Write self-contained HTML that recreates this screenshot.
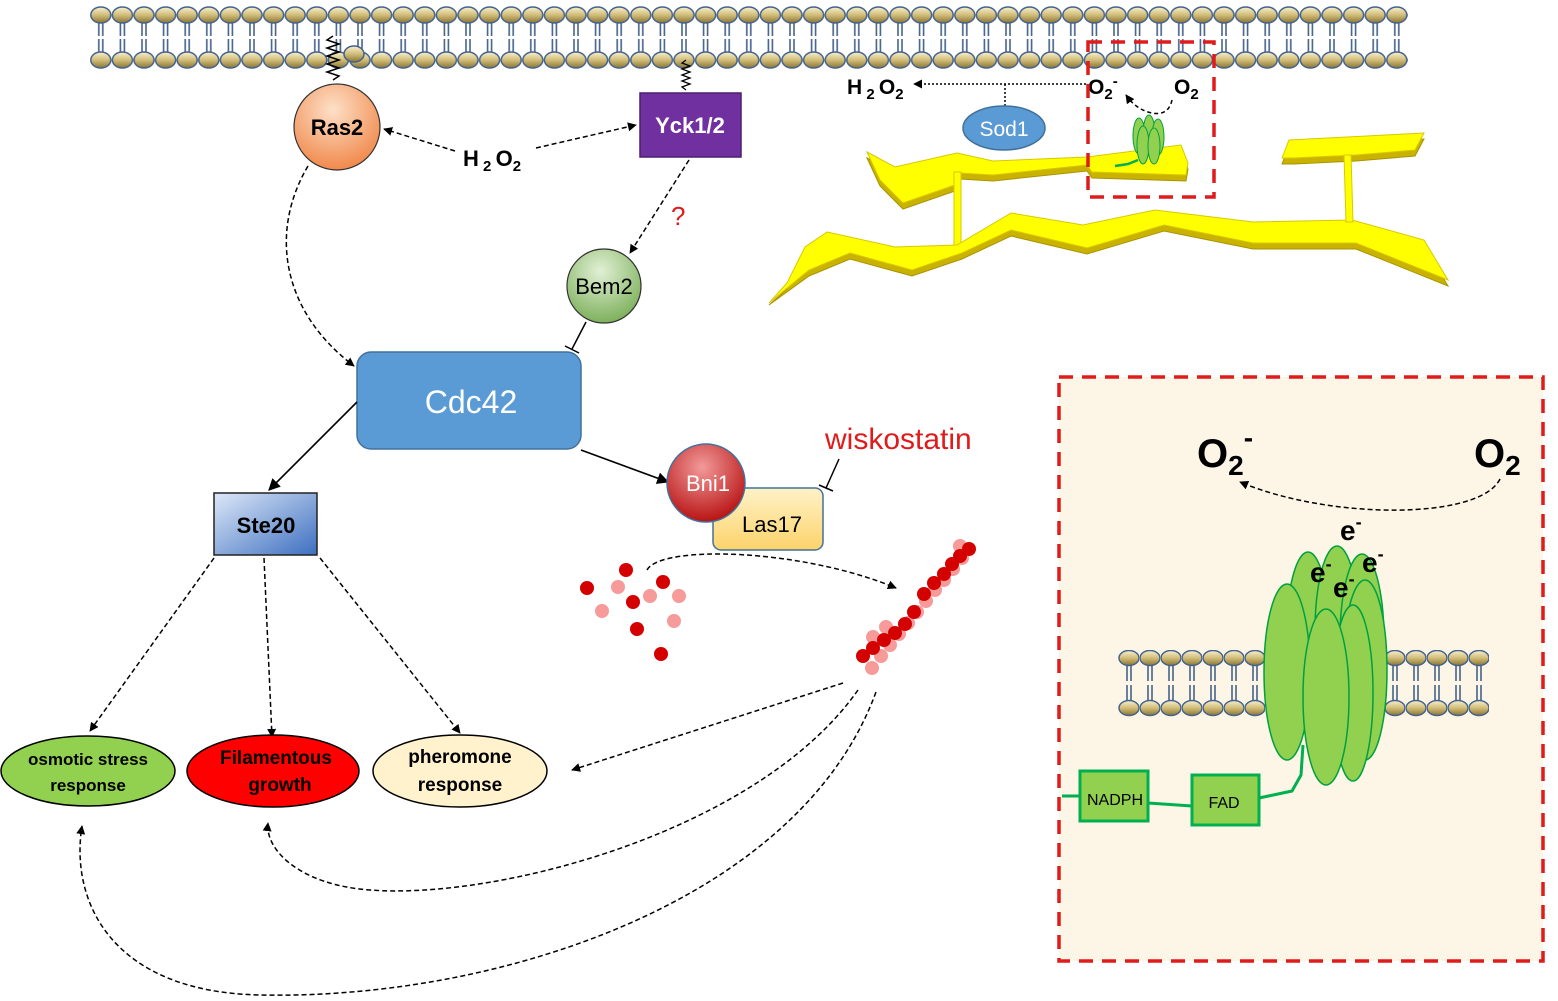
<!DOCTYPE html>
<html><head><meta charset="utf-8"><style>
html,body{margin:0;padding:0;background:#fff}
svg{display:block;font-family:"Liberation Sans",sans-serif}
</style></head><body>
<svg width="1558" height="1001" viewBox="0 0 1558 1001" xmlns="http://www.w3.org/2000/svg">
<defs>
<linearGradient id="hd" x1="0" y1="0" x2="0" y2="1"><stop offset="0" stop-color="#f7f1d0"/><stop offset="0.5" stop-color="#d2bd78"/><stop offset="1" stop-color="#8a7534"/></linearGradient>
<pattern id="mem" patternUnits="userSpaceOnUse" x="90" y="0" width="21.6" height="80">
<line x1="8.8" y1="22" x2="8.8" y2="36" stroke="#44628c" stroke-width="1.6"/><line x1="12.8" y1="22" x2="12.8" y2="36" stroke="#44628c" stroke-width="1.6"/>
<line x1="8.8" y1="39" x2="8.8" y2="53" stroke="#44628c" stroke-width="1.6"/><line x1="12.8" y1="39" x2="12.8" y2="53" stroke="#44628c" stroke-width="1.6"/>
<ellipse cx="10.8" cy="15" rx="10" ry="8" fill="url(#hd)" stroke="#44628c" stroke-width="1.5"/>
<ellipse cx="10.8" cy="60" rx="10" ry="8" fill="url(#hd)" stroke="#44628c" stroke-width="1.5"/>
</pattern>
<pattern id="mem2" patternUnits="userSpaceOnUse" x="1118" y="650" width="21" height="70">
<line x1="9" y1="15" x2="9" y2="31" stroke="#44628c" stroke-width="1.6"/><line x1="13" y1="15" x2="13" y2="31" stroke="#44628c" stroke-width="1.6"/>
<line x1="9" y1="35" x2="9" y2="51" stroke="#44628c" stroke-width="1.6"/><line x1="13" y1="35" x2="13" y2="51" stroke="#44628c" stroke-width="1.6"/>
<ellipse cx="11" cy="8" rx="10" ry="7.5" fill="url(#hd)" stroke="#44628c" stroke-width="1.5"/>
<ellipse cx="11" cy="58" rx="10" ry="7.5" fill="url(#hd)" stroke="#44628c" stroke-width="1.5"/>
</pattern>
<pattern id="mem3" patternUnits="userSpaceOnUse" x="1384" y="650" width="21" height="70">
<line x1="9" y1="15" x2="9" y2="31" stroke="#44628c" stroke-width="1.6"/><line x1="13" y1="15" x2="13" y2="31" stroke="#44628c" stroke-width="1.6"/>
<line x1="9" y1="35" x2="9" y2="51" stroke="#44628c" stroke-width="1.6"/><line x1="13" y1="35" x2="13" y2="51" stroke="#44628c" stroke-width="1.6"/>
<ellipse cx="11" cy="8" rx="10" ry="7.5" fill="url(#hd)" stroke="#44628c" stroke-width="1.5"/>
<ellipse cx="11" cy="58" rx="10" ry="7.5" fill="url(#hd)" stroke="#44628c" stroke-width="1.5"/>
</pattern>
<radialGradient id="ras" cx="0.45" cy="0.3" r="0.8"><stop offset="0" stop-color="#fde0c8"/><stop offset="1" stop-color="#ef7d3a"/></radialGradient>
<radialGradient id="bem" cx="0.45" cy="0.3" r="0.8"><stop offset="0" stop-color="#e2f0d6"/><stop offset="1" stop-color="#6fa84a"/></radialGradient>
<radialGradient id="bni" cx="0.45" cy="0.3" r="0.8"><stop offset="0" stop-color="#f29a9a"/><stop offset="1" stop-color="#b00000"/></radialGradient>
<linearGradient id="ste" x1="0" y1="0" x2="1" y2="1"><stop offset="0" stop-color="#dde8f8"/><stop offset="1" stop-color="#3d6fc0"/></linearGradient>
<linearGradient id="las" x1="0" y1="0" x2="0" y2="1"><stop offset="0" stop-color="#fff2c8"/><stop offset="1" stop-color="#fcd36a"/></linearGradient>
<marker id="ar" viewBox="0 0 10 10" refX="9" refY="5" markerWidth="9" markerHeight="9" orient="auto-start-reverse" markerUnits="userSpaceOnUse"><path d="M0,0 L10,5 L0,10 z" fill="#000"/></marker>
<marker id="ar2" viewBox="0 0 10 10" refX="9" refY="5" markerWidth="12" markerHeight="12" orient="auto-start-reverse" markerUnits="userSpaceOnUse"><path d="M0,0 L10,5 L0,10 z" fill="#000"/></marker>
</defs>

<rect x="90" y="0" width="1318" height="72" fill="url(#mem)"/>
<path d="M333,36 l-6,4 l12,4 l-12,4 l12,4 l-12,4 l12,4 l-12,4 l12,4 l-12,4 l12,4 l-6,4" fill="none" stroke="#000" stroke-width="1.5"/>
<ellipse cx="354" cy="54" rx="10" ry="8" fill="url(#hd)" stroke="#44628c" stroke-width="1.5"/>
<path d="M686,60 l-4,3 l8,3 l-8,3 l8,3 l-8,3 l8,3 l-8,3 l8,3 l-8,3 l4,3" fill="none" stroke="#000" stroke-width="1.3"/>

<g fill="#c9b300" stroke="#a89400" stroke-width="1">
<polygon points="867,158 895,173 957,159 993,167 1087,163 1181,151 1188,169 1186,181 1092,178 1087,171 993,181 960,179 955,191 903,209 880,186"/>
<polygon points="827,238 895,253 957,251 1011,219 1083,231 1155,216 1253,228 1352,226 1424,246 1448,286 1356,249 1253,249 1164,231 1087,254 1011,236 962,259 912,276 850,259 809,276 769,305 787,289 805,253"/>
<polygon points="1289,146 1424,139 1415,156 1356,161 1294,164 1282,164"/>
</g>
<g fill="#ffff00" stroke="#d8c800" stroke-width="1">
<polygon points="867,152 895,167 957,153 993,161 1087,157 1181,145 1188,163 1186,175 1092,172 1087,165 993,175 960,173 955,185 903,203 880,180"/>
<rect x="954" y="172" width="7" height="75"/>
<polygon points="827,232 895,247 957,245 1011,213 1083,225 1155,210 1253,222 1352,220 1424,240 1448,280 1356,243 1253,243 1164,225 1087,248 1011,230 962,253 912,270 850,253 809,270 769,303 787,283 805,247"/>
<polygon points="1289,140 1424,133 1415,150 1356,155 1294,158 1282,158"/>
<polygon points="1344,155 1351,155 1353,222 1346,222"/>
</g>

<text x="847" y="94" font-size="21" font-weight="bold">H<tspan font-size="15" dy="5"> 2 </tspan><tspan dy="-5">O</tspan><tspan font-size="15" dy="5">2</tspan></text>
<line x1="1086" y1="84" x2="914" y2="84" stroke="#000" stroke-width="1.5" stroke-dasharray="2,2" marker-end="url(#ar)"/>
<line x1="1005" y1="84" x2="1005" y2="107" stroke="#000" stroke-width="1.5" stroke-dasharray="2,2"/>
<ellipse cx="1004" cy="128" rx="41" ry="22" fill="#5b9bd5" stroke="#41719c" stroke-width="1.5"/>
<text x="1004" y="136" font-size="21" fill="#fff" text-anchor="middle">Sod1</text>
<text x="1088" y="94" font-size="21" font-weight="bold">O<tspan font-size="15" dy="5">2</tspan><tspan font-size="15" dy="-13">-</tspan></text>
<text x="1174" y="94" font-size="21" font-weight="bold">O<tspan font-size="15" dy="5">2</tspan></text>
<path d="M1172,100 Q1168,118 1148,112 Q1135,108 1126,95" fill="none" stroke="#000" stroke-width="1.5" stroke-dasharray="4,3" marker-end="url(#ar)"/>
<g fill="#92d050" stroke="#00a040" stroke-width="1">
<ellipse cx="1139" cy="136" rx="6" ry="18"/><ellipse cx="1149" cy="134" rx="6" ry="19"/><ellipse cx="1158" cy="137" rx="6" ry="18"/>
<ellipse cx="1143" cy="145" rx="6" ry="19"/><ellipse cx="1154" cy="146" rx="6" ry="18"/>
</g>
<path d="M1115,166 L1128,164 L1138,160" fill="none" stroke="#00b050" stroke-width="2.5"/>
<rect x="1088" y="42" width="126" height="155" fill="none" stroke="#e01b1b" stroke-width="3.5" stroke-dasharray="14,9"/>

<circle cx="337" cy="127" r="43" fill="url(#ras)" stroke="#333" stroke-width="1.2"/>
<text x="337" y="135" font-size="22" font-weight="bold" text-anchor="middle">Ras2</text>
<rect x="640" y="93" width="101" height="64" fill="#7030a0" stroke="#4a1f6e" stroke-width="1.5"/>
<text x="690" y="133" font-size="22" font-weight="bold" fill="#fff" text-anchor="middle">Yck1/2</text>
<text x="463" y="166" font-size="22" font-weight="bold">H<tspan font-size="15" dy="5"> 2 </tspan><tspan dy="-5">O</tspan><tspan font-size="15" dy="5">2</tspan></text>
<line x1="455" y1="151" x2="384" y2="129" stroke="#000" stroke-width="1.5" stroke-dasharray="5,3" marker-end="url(#ar)"/>
<line x1="536" y1="148" x2="636" y2="125" stroke="#000" stroke-width="1.5" stroke-dasharray="5,3" marker-end="url(#ar)"/>
<path d="M308,166 C270,230 280,310 354,366" fill="none" stroke="#000" stroke-width="1.5" stroke-dasharray="5,3" marker-end="url(#ar)"/>
<line x1="689" y1="160" x2="630" y2="253" stroke="#000" stroke-width="1.5" stroke-dasharray="5,3" marker-end="url(#ar)"/>
<text x="671" y="225" font-size="26" fill="#e01b1b">?</text>

<circle cx="604" cy="286" r="37" fill="url(#bem)" stroke="#333" stroke-width="1.2"/>
<text x="604" y="294" font-size="22" text-anchor="middle">Bem2</text>
<line x1="586" y1="322" x2="572" y2="349" stroke="#000" stroke-width="1.5"/>
<line x1="565" y1="346" x2="579" y2="353" stroke="#000" stroke-width="1.5"/>

<rect x="357" y="352" width="224" height="97" rx="14" fill="#5b9bd5" stroke="#41719c" stroke-width="1.5"/>
<text x="471" y="413" font-size="32" fill="#fff" text-anchor="middle">Cdc42</text>
<line x1="357" y1="402" x2="269" y2="490" stroke="#000" stroke-width="1.6" marker-end="url(#ar2)"/>
<line x1="581" y1="450" x2="668" y2="482" stroke="#000" stroke-width="1.6" marker-end="url(#ar2)"/>

<rect x="214" y="493" width="103" height="62" fill="url(#ste)" stroke="#222" stroke-width="1.5"/>
<text x="266" y="533" font-size="22" font-weight="bold" text-anchor="middle">Ste20</text>
<line x1="214" y1="558" x2="90" y2="731" stroke="#000" stroke-width="1.5" stroke-dasharray="5,3" marker-end="url(#ar)"/>
<line x1="264" y1="558" x2="272" y2="737" stroke="#000" stroke-width="1.5" stroke-dasharray="5,3" marker-end="url(#ar)"/>
<line x1="320" y1="558" x2="460" y2="733" stroke="#000" stroke-width="1.5" stroke-dasharray="5,3" marker-end="url(#ar)"/>

<ellipse cx="88" cy="771" rx="87" ry="35" fill="#92d050" stroke="#000" stroke-width="1.5"/>
<text x="88" y="765" font-size="17" font-weight="bold" text-anchor="middle">osmotic stress</text>
<text x="88" y="791" font-size="17" font-weight="bold" text-anchor="middle">response</text>
<ellipse cx="273" cy="771" rx="86" ry="36" fill="#ff0000" stroke="#000" stroke-width="1.5"/>
<text x="276" y="764" font-size="19" font-weight="bold" text-anchor="middle">Filamentous</text>
<text x="280" y="791" font-size="19" font-weight="bold" text-anchor="middle">growth</text>
<ellipse cx="460" cy="771" rx="87" ry="36" fill="#fff2cc" stroke="#000" stroke-width="1.5"/>
<text x="460" y="763" font-size="19" font-weight="bold" text-anchor="middle">pheromone</text>
<text x="460" y="791" font-size="19" font-weight="bold" text-anchor="middle">response</text>

<rect x="713" y="488" width="110" height="62" rx="8" fill="url(#las)" stroke="#41719c" stroke-width="1.5"/>
<text x="772" y="532" font-size="22" text-anchor="middle">Las17</text>
<circle cx="706" cy="483" r="39" fill="url(#bni)" stroke="#41719c" stroke-width="1.5"/>
<text x="708" y="491" font-size="22" fill="#fff" text-anchor="middle">Bni1</text>
<text x="825" y="449" font-size="30" fill="#e01b1b">wiskostatin</text>
<line x1="839" y1="459" x2="826" y2="488" stroke="#000" stroke-width="1.5"/>
<line x1="819" y1="485" x2="833" y2="491" stroke="#000" stroke-width="1.5"/>

<g fill="#f79a9a"><circle cx="618" cy="587" r="7"/><circle cx="650" cy="596" r="7"/><circle cx="679" cy="596" r="7"/><circle cx="602" cy="611" r="7"/><circle cx="674" cy="621" r="7"/></g>
<g fill="#d40000"><circle cx="587" cy="588" r="7"/><circle cx="626" cy="570" r="7"/><circle cx="663" cy="582" r="7"/><circle cx="633" cy="602" r="7"/><circle cx="637" cy="629" r="7"/><circle cx="661" cy="654" r="7"/></g>
<path d="M647,570 C660,545 800,548 896,588" fill="none" stroke="#000" stroke-width="1.5" stroke-dasharray="5,3" marker-end="url(#ar)"/>
<g fill="#f79a9a">
<circle cx="872" cy="668" r="7"/><circle cx="881" cy="656" r="7"/><circle cx="890" cy="645" r="7"/><circle cx="899" cy="634" r="7"/><circle cx="908" cy="623" r="7"/><circle cx="917" cy="612" r="7"/><circle cx="926" cy="601" r="7"/><circle cx="935" cy="590" r="7"/><circle cx="944" cy="580" r="7"/><circle cx="953" cy="569" r="7"/><circle cx="962" cy="558" r="7"/><circle cx="960" cy="546" r="7"/><circle cx="873" cy="637" r="7"/><circle cx="886" cy="627" r="7"/>
</g>
<g fill="#d40000">
<circle cx="863" cy="656" r="7"/><circle cx="873" cy="648" r="7"/><circle cx="884" cy="640" r="7"/><circle cx="895" cy="633" r="7"/><circle cx="905" cy="624" r="7"/><circle cx="914" cy="612" r="7"/><circle cx="924" cy="594" r="7"/><circle cx="934" cy="583" r="7"/><circle cx="944" cy="574" r="7"/><circle cx="952" cy="564" r="7"/><circle cx="960" cy="556" r="7"/><circle cx="969" cy="549" r="7"/>
</g>
<line x1="843" y1="683" x2="572" y2="770" stroke="#000" stroke-width="1.5" stroke-dasharray="5,3" marker-end="url(#ar)"/>
<path d="M858,690 C760,830 500,900 370,890 C300,885 265,850 268,823" fill="none" stroke="#000" stroke-width="1.5" stroke-dasharray="5,3" marker-end="url(#ar)"/>
<path d="M876,692 C800,900 500,1000 260,995 C110,992 70,900 82,826" fill="none" stroke="#000" stroke-width="1.5" stroke-dasharray="5,3" marker-end="url(#ar)"/>

<rect x="1059" y="377" width="484" height="584" fill="#fdf6e6" stroke="#e01b1b" stroke-width="3.5" stroke-dasharray="14,9"/>
<text x="1197" y="467" font-size="40" font-weight="bold">O<tspan font-size="28" dy="8">2</tspan><tspan font-size="28" dy="-28">-</tspan></text>
<text x="1474" y="467" font-size="40" font-weight="bold">O<tspan font-size="28" dy="8">2</tspan></text>
<path d="M1500,479 C1480,520 1330,520 1240,482" fill="none" stroke="#000" stroke-width="1.5" stroke-dasharray="5,3" marker-end="url(#ar)"/>
<rect x="1118" y="650" width="147" height="70" fill="url(#mem2)"/>
<rect x="1384" y="650" width="105" height="70" fill="url(#mem3)"/>
<g fill="#92d050" stroke="#00a040" stroke-width="1.5">
<ellipse cx="1308" cy="640" rx="22" ry="88"/><ellipse cx="1337" cy="632" rx="22" ry="86"/><ellipse cx="1362" cy="640" rx="22" ry="86"/>
<ellipse cx="1287" cy="672" rx="23" ry="88"/><ellipse cx="1365" cy="670" rx="22" ry="90"/>
<ellipse cx="1353" cy="693" rx="20" ry="88"/><ellipse cx="1326" cy="697" rx="23" ry="88"/>
</g>
<g font-size="28" font-weight="bold">
<text x="1340" y="540">e<tspan font-size="18" dy="-12">-</tspan></text>
<text x="1362" y="572">e<tspan font-size="18" dy="-12">-</tspan></text>
<text x="1310" y="582">e<tspan font-size="18" dy="-12">-</tspan></text>
<text x="1333" y="597">e<tspan font-size="18" dy="-12">-</tspan></text>
</g>
<path d="M1062,796 L1080,796 M1148,803 L1192,806 M1259,798 L1292,791 L1301,775 L1303,745" fill="none" stroke="#00b050" stroke-width="3"/>
<rect x="1080" y="771" width="68" height="50" fill="#92d050" stroke="#00b050" stroke-width="3"/>
<text x="1115" y="805" font-size="16" text-anchor="middle">NADPH</text>
<rect x="1192" y="775" width="67" height="50" fill="#92d050" stroke="#00b050" stroke-width="3"/>
<text x="1224" y="808" font-size="16" text-anchor="middle">FAD</text>
</svg>
</body></html>
